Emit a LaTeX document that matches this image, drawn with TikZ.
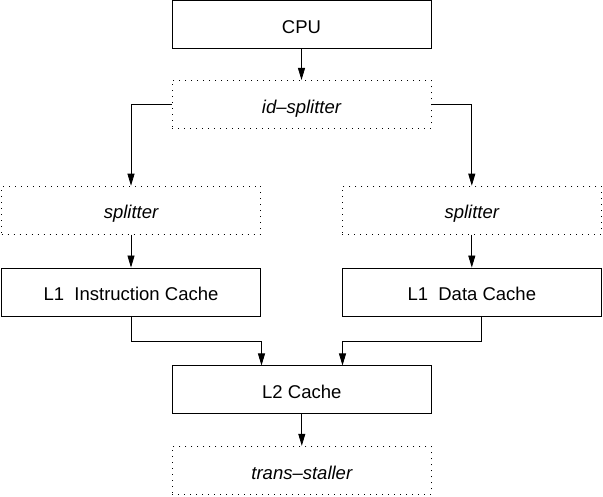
\documentclass[tikz,border=0pt]{standalone}
\usepackage{fontspec}
\setmainfont{Liberation Sans}
\usetikzlibrary{arrows.meta}
\begin{document}
\begin{tikzpicture}[x=1pt,y=-1pt,
  base/.style={minimum width=259pt,minimum height=48pt,inner sep=0pt,text height=17.5pt,text depth=0pt,font=\fontsize{18.5}{21}\selectfont},
  box/.style={base,draw=black,line width=0.9pt},
  dotbox/.style={base,draw=black,line width=1pt,dash pattern=on 1pt off 5pt,font=\fontsize{18.5}{21}\selectfont\itshape},
  conn/.style={draw=black,line width=0.8pt,-{Triangle[length=12pt,width=7pt]}}]
\useasboundingbox (0,0) rectangle (603,497);
\node[box] (cpu) at (301.5,24.3) {CPU};
\node[dotbox] (id) at (301.5,104.5) {id–splitter};
\node[dotbox] (spl) at (131,210.2) {splitter};
\node[dotbox] (spr) at (471.8,210.2) {splitter};
\node[box] (l1i) at (131,292) {L1\ \ Instruction Cache};
\node[box] (l1d) at (471.8,292) {L1\ \ Data Cache};
\node[box] (l2) at (301.8,389.5) {L2 Cache};
\node[dotbox] (ts) at (301.8,470.3) {trans–staller};
\coordinate (l1iout) at (131,316);
\coordinate (l1dout) at (481.5,316);
\coordinate (l2inl) at (261.5,365.5);
\coordinate (l2inr) at (342.5,365.5);
\coordinate (mid) at (0,341.5);
\draw[conn] (cpu.south) -- (id.north);
\draw[conn] (id.west) -| (spl.north);
\draw[conn] (id.east) -| (spr.north);
\draw[conn] (spl.south) -- (l1i.north);
\draw[conn] (spr.south) -- (l1d.north);
\draw[conn] (l1iout) -- (l1iout |- mid) -| (l2inl);
\draw[conn] (l1dout) -- (l1dout |- mid) -| (l2inr);
\draw[conn] (l2.south) -- (ts.north);
\end{tikzpicture}
\end{document}
